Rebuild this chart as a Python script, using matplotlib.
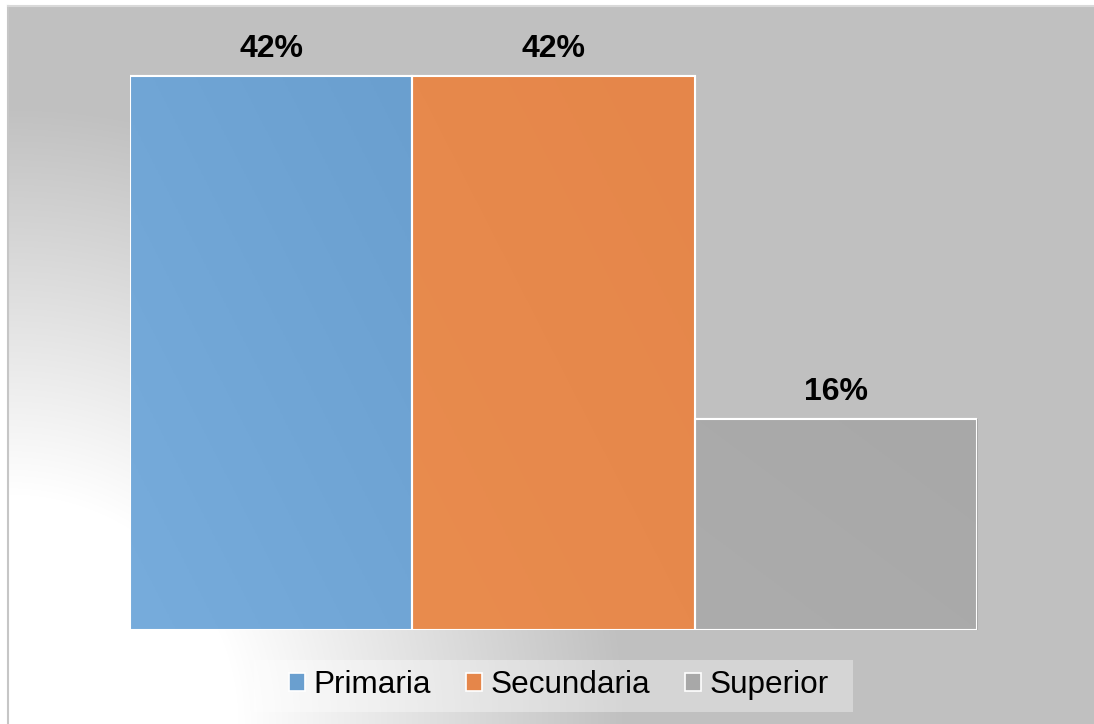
import numpy as np
import matplotlib.pyplot as plt
from matplotlib.colors import to_rgb
from matplotlib.patches import Patch, Rectangle

plt.rcParams['font.family'] = ['Liberation Sans', 'DejaVu Sans']

# Nivel educativo
categories = ["Primaria", "Secundaria", "Superior"]
values = [0.42, 0.42, 0.16]
labels = ["42%", "42%", "16%"]
colors = ["#6a9fcf", "#e5864a", "#a8a8a8"]
light_colors = ["#77acdc", "#e98c4e", "#acacac"]

W, H = 1094, 724
fig = plt.figure(figsize=(W / 100, H / 100), dpi=100)
fig.patch.set_facecolor("white")

# Background panel: radial gradient, white in the lower-left corner fading to gray
bg = fig.add_axes([8 / W, 0, 1 - 8 / W + 0.01, (H - 6) / H])
bg.set_axis_off()
yy, xx = np.mgrid[0:H - 6, 0:W - 8 + 11]
dist = np.hypot(xx, (H - 6) - yy)
t = np.clip((dist - 230) / (620 - 230), 0, 1)
gray = 0.753
shade = 1 - t * (1 - gray)
img = np.dstack([shade, shade, shade])
bg.imshow(img, aspect="auto", extent=[0, 1, 0, 1], origin="upper")
bg.set_xlim(0, 1)
bg.set_ylim(0, 1)

# Outer frame (left and top edges)
fig.add_artist(plt.Line2D([8 / W, 8 / W], [0, 1 - 6 / H], color="#c6c6c6", lw=1.5))
fig.add_artist(plt.Line2D([8 / W, 1], [1 - 6 / H, 1 - 6 / H], color="#d9d9d9", lw=1.5))

ax = fig.add_axes([130 / W, (H - 630) / H, (977 - 130) / W, (630 - 36) / H])
ax.set_facecolor("none")
x = np.arange(len(categories))
bars = ax.bar(x, values, width=1.0, color=colors, edgecolor="white", linewidth=1.5, zorder=2)
ax.set_xlim(-0.5, 2.5)
ax.set_ylim(0, 0.45)
ax.set_axis_off()

# Soft diagonal shading inside each bar
gy, gx = np.mgrid[0:1:100j, 0:1:100j]
g = np.clip((gx + (1 - gy)) / 2, 0, 1)
for bar, c0, c1 in zip(bars, light_colors, colors):
    a, b = np.array(to_rgb(c0)), np.array(to_rgb(c1))
    grad = a[None, None, :] * (1 - g[..., None]) + b[None, None, :] * g[..., None]
    x0, y0 = bar.get_x(), bar.get_y()
    im = ax.imshow(grad, extent=[x0, x0 + bar.get_width(), y0, y0 + bar.get_height()],
                   origin="upper", aspect="auto", zorder=2.5)
    im.set_clip_path(bar)
    edge = plt.Rectangle((x0, y0), bar.get_width(), bar.get_height(), fill=False,
                         edgecolor="white", linewidth=1.5, zorder=3)
    ax.add_patch(edge)

for xi, v, lab in zip(x, values, labels):
    ax.annotate(lab, (xi, v), xytext=(0, 13.7), textcoords="offset points",
                ha="center", va="baseline", fontsize=23, fontweight="bold", color="black")

# Legend panel (translucent white strip) and the legend itself
fig.add_artist(Rectangle((254 / W, (H - 712) / H), (853 - 254) / W, 52 / H,
                         transform=fig.transFigure, facecolor="white", alpha=0.35,
                         edgecolor="none"))
handles = [Patch(facecolor=c, edgecolor="white", linewidth=1.2) for c in colors]
leg = fig.legend(handles, categories, loc="center", bbox_to_anchor=(559 / W, (H - 685) / H),
                 ncol=3, fontsize=22.7, frameon=False,
                 handlelength=0.52, handleheight=0.52, handletextpad=0.27,
                 columnspacing=1.1, borderpad=0.2, borderaxespad=0)

fig.savefig("out.png", dpi=100)
